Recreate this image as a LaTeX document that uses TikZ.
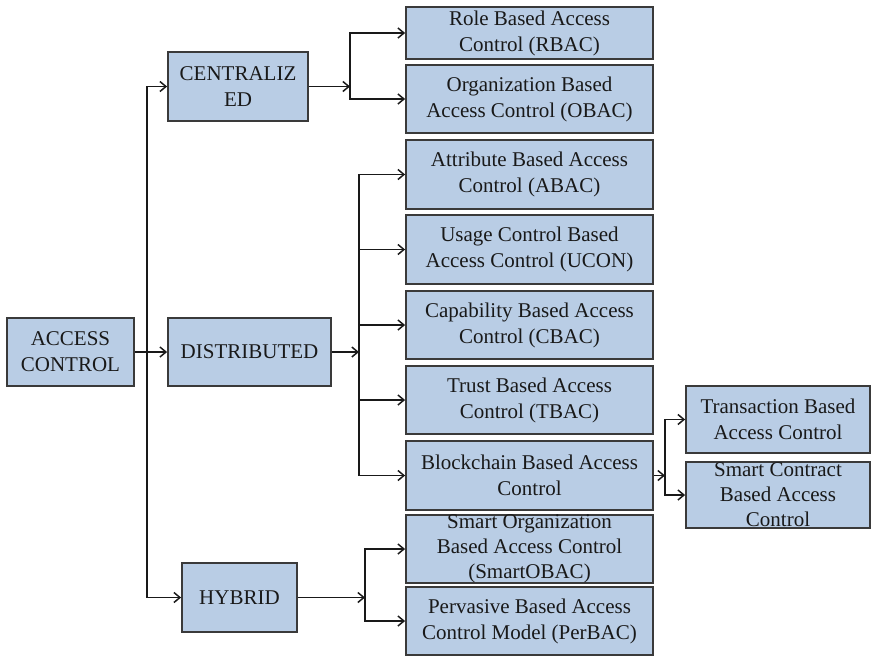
\documentclass[tikz,border=0pt]{standalone}
\usepackage{fontspec}
\setmainfont{Liberation Serif}
\usetikzlibrary{arrows.meta}
\definecolor{boxfill}{RGB}{185,205,229}
\definecolor{boxline}{RGB}{58,58,58}
\definecolor{ink}{RGB}{25,25,25}

\begin{document}
\begin{tikzpicture}[x=1pt, y=-1pt, line width=1.5pt,
	box/.style={draw=boxline, fill=boxfill, line width=1.8pt, align=center, inner sep=1pt, text=ink, font=\fontsize{21}{26}\selectfont},
	link/.style={draw=ink, -{Straight Barb[length=6pt, width=10pt]}}]
\useasboundingbox (0,0) rectangle (871,656);
% first level
\node[box, minimum width=127, minimum height=68] (ac) at (70.5, 352) {ACCESS\\CONTROL};
\node[box, minimum width=140, minimum height=69] (cent) at (238, 86.5) {CENTRALIZ\\ED};
\node[box, minimum width=163, minimum height=68] (dist) at (249.5, 352) {DISTRIBUTED};
\node[box, minimum width=115, minimum height=69] (hyb) at (239.5, 597.5) {HYBRID};
% second level
\node[box, minimum width=247, minimum height=52] (rbac) at (529.5, 33) {Role Based Access\\Control (RBAC)};
\node[box, minimum width=247, minimum height=68] (obac) at (529.5, 99) {Organization Based\\Access Control (OBAC)};
\node[box, minimum width=247, minimum height=69] (abac) at (529.5, 174.5) {Attribute Based Access\\Control (ABAC)};
\node[box, minimum width=247, minimum height=69] (ucon) at (529.5, 249.5) {Usage Control Based\\Access Control (UCON)};
\node[box, minimum width=247, minimum height=68] (cbac) at (529.5, 325) {Capability Based Access\\Control (CBAC)};
\node[box, minimum width=247, minimum height=68] (tbac) at (529.5, 400) {Trust Based Access\\Control (TBAC)};
\node[box, minimum width=247, minimum height=69] (blk) at (529.5, 475.5) {Blockchain Based Access\\Control};
\node[box, minimum width=247, minimum height=68, inner ysep=-5pt, font=\fontsize{21}{25}\selectfont] (sobac) at (529.5, 549) {Smart Organization\\Based Access Control\\(SmartOBAC)};
\node[box, minimum width=247, minimum height=68] (perbac) at (529.5, 621) {Pervasive Based Access\\Control Model (PerBAC)};
% third level
\node[box, minimum width=184, minimum height=67] (trans) at (778, 419.5) {Transaction Based\\Access Control};
\node[box, minimum width=184, minimum height=66, inner ysep=-5pt, font=\fontsize{21}{25}\selectfont] (sc) at (778, 495) {Smart Contract\\Based Access\\Control};
% branch points
\coordinate (t0) at (147, 352);
\coordinate (c1) at (350, 86.5);
\coordinate (d1) at (359, 352);
\coordinate (h1) at (365, 597.5);
\coordinate (b1) at (665, 475.5);
% connectors
\draw[link] (ac) -- (dist);
\draw[link] (t0) |- (cent);
\draw[link] (t0) |- (hyb);
\draw[link] (cent) -- (c1);
\draw[link] (c1) |- (rbac);
\draw[link] (c1) |- (obac);
\draw[link] (dist) -- (d1);
\foreach \n in {abac, ucon, cbac, tbac, blk}
	\draw[link] (d1) |- (\n);
\draw[link] (hyb) -- (h1);
\draw[link] (h1) |- (sobac);
\draw[link] (h1) |- (perbac);
\draw[link] (blk) -- (b1);
\draw[link] (b1) |- (trans);
\draw[link] (b1) |- (sc);
\end{tikzpicture}
\end{document}
